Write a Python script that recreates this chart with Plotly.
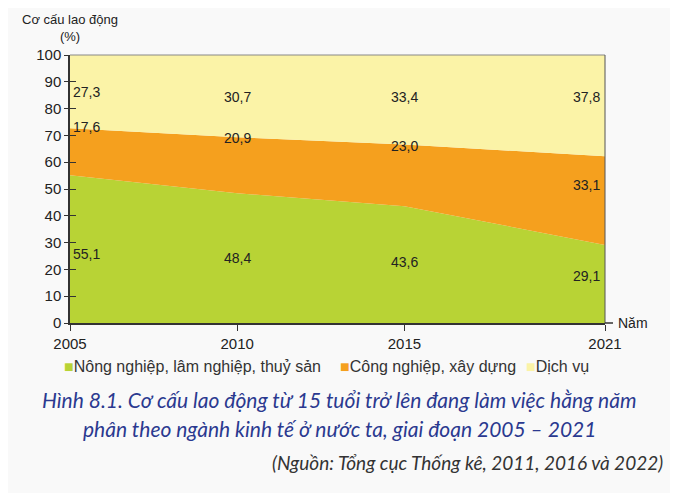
import plotly.graph_objects as go

years = [2005, 2010, 2015, 2021]
nong_nghiep = [55.1, 48.4, 43.6, 29.1]
cong_nghiep = [17.6, 20.9, 23.0, 33.1]
dich_vu = [27.3, 30.7, 33.4, 37.8]
series_names = ["Nông nghiệp, lâm nghiệp, thuỷ sản", "Công nghiệp, xây dựng", "Dịch vụ"]
y_ticks = [0, 10, 20, 30, 40, 50, 60, 70, 80, 90, 100]

colors = ["#b8d335", "#f5a01e", "#fbf3a7"]
# label vertical placement (layout): y positions for value labels per series
label_pos = {
    0: [25.7, 24.3, 22.8, 17.5],
    1: [73.1, 69.0, 66.0, 51.5],
    2: [86.2, 84.3, 84.3, 84.3],
}
legend_x = [-0.015, 0.501, 0.849]

fig = go.Figure()
for i, (name, vals) in enumerate(zip(series_names, [nong_nghiep, cong_nghiep, dich_vu])):
    fig.add_trace(go.Scatter(
        x=years, y=vals, name=name, stackgroup="one", mode="none",
        fillcolor=colors[i], line=dict(width=0), hoverinfo="skip", showlegend=False))

annotations = []
for i, vals in enumerate([nong_nghiep, cong_nghiep, dich_vu]):
    for j, (yr, v) in enumerate(zip(years, vals)):
        if j == 0:
            xa, xs = "left", 1
        elif j == len(years) - 1:
            xa, xs = "right", -3
        else:
            xa, xs = "center", 0
        annotations.append(dict(
            x=yr, y=label_pos[i][j], xref="x", yref="y",
            text=f"{v:.1f}".replace(".", ","), showarrow=False,
            xanchor=xa, xshift=xs, yanchor="middle",
            font=dict(family="Liberation Sans", size=14, color="#222")))

# legend built as text items
for i, name in enumerate(series_names):
    annotations.append(dict(
        x=legend_x[i], y=-0.164, xref="paper", yref="paper", xanchor="left", yanchor="middle",
        text=f"<span style='color:{colors[i]}'>■</span>{name}", showarrow=False,
        font=dict(family="Liberation Sans", size=16, color="#333")))

annotations += [
    dict(x=0, y=1.035, xref="paper", yref="paper", xanchor="center", yanchor="bottom",
         text="Cơ cấu lao động<br>(%)", showarrow=False, align="center",
         font=dict(family="Liberation Sans", size=13, color="#222")),
    dict(x=1.02, y=0, xref="paper", yref="paper", xanchor="left", yanchor="middle",
         text="Năm", showarrow=False,
         font=dict(family="Liberation Sans", size=14, color="#222")),
    dict(x=0.503, y=-0.287, xref="paper", yref="paper", xanchor="center", yanchor="middle",
         text="<i>Hình 8.1. Cơ cấu lao động từ 15 tuổi trở lên đang làm việc hằng năm</i>",
         showarrow=False, font=dict(family="Lato", size=21, color="#2b3990")),
    dict(x=0.503, y=-0.392, xref="paper", yref="paper", xanchor="center", yanchor="middle",
         text="<i>phân theo ngành kinh tế ở nước ta, giai đoạn 2005 – 2021</i>",
         showarrow=False, font=dict(family="Lato", size=21, color="#2b3990")),
    dict(x=1.112, y=-0.522, xref="paper", yref="paper", xanchor="right", yanchor="middle",
         text="<i>(Nguồn: Tổng cục Thống kê, 2011, 2016 và 2022)</i>",
         showarrow=False, font=dict(family="Lato", size=19, color="#333")),
]

fig.update_layout(
    width=670, height=485,
    margin=dict(l=62, r=73, t=47, b=170),
    paper_bgcolor="#f9f9f9", plot_bgcolor="#f9f9f9",
    showlegend=False,
    xaxis=dict(range=[2005, 2021], tickvals=years, ticks="outside", ticklen=6,
               tickcolor="#333", showgrid=False, zeroline=False,
               showline=True, linecolor="#333", linewidth=1.5,
               tickfont=dict(family="Liberation Sans", size=15, color="#222")),
    yaxis=dict(range=[0, 100], tickvals=y_ticks, ticks="outside", ticklen=4,
               tickcolor="#333", showgrid=False, zeroline=False,
               showline=True, linecolor="#333", linewidth=1.5,
               tickfont=dict(family="Liberation Sans", size=15, color="#222")),
    yaxis2=dict(range=[0, 100], tickvals=y_ticks, ticks="inside", ticklen=6,
                tickcolor="#333", overlaying="y", side="left", showticklabels=False,
                showgrid=False, zeroline=False, showline=False),
    annotations=annotations,
    shapes=[
        dict(type="line", xref="paper", yref="paper", x0=0, x1=1, y0=1, y1=1,
             line=dict(color="#888", width=1)),
        dict(type="line", xref="paper", yref="paper", x0=1, x1=1, y0=0, y1=1,
             line=dict(color="#555", width=1)),
        dict(type="line", xref="paper", yref="paper", x0=1, x1=1.015, y0=0, y1=0,
             line=dict(color="#333", width=1.5)),
    ],
)
# dummy trace to activate yaxis2
fig.add_trace(go.Scatter(x=[None], y=[None], yaxis="y2", showlegend=False, hoverinfo="skip"))

fig.write_html("out.html")
